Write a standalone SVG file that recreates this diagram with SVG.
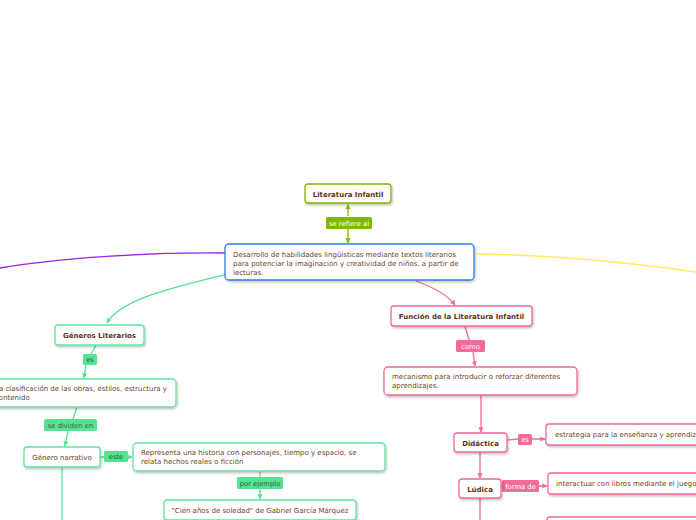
<svg xmlns="http://www.w3.org/2000/svg" width="696" height="520" viewBox="0 0 696 520">
<defs>
<filter id="sh" x="-10%" y="-20%" width="120%" height="150%">
<feDropShadow dx="1" dy="1.5" stdDeviation="0.8" flood-color="#000" flood-opacity="0.25"/>
</filter>
<marker id="ag" viewBox="0 0 10 10" refX="9" refY="5" markerWidth="4" markerHeight="4" orient="auto"><path d="M0,0 L10,5 L0,10 z" fill="#55e291"/></marker>
<marker id="ap" viewBox="0 0 10 10" refX="9" refY="5" markerWidth="4" markerHeight="4" orient="auto"><path d="M0,0 L10,5 L0,10 z" fill="#f06a9a"/></marker>
<marker id="ao" viewBox="0 0 10 10" refX="9" refY="5" markerWidth="4" markerHeight="4" orient="auto"><path d="M0,0 L10,5 L0,10 z" fill="#7fb800"/></marker>
</defs>
<style>
text{font-family:"DejaVu Sans",Verdana,sans-serif;font-size:7px;fill:#6b4422}
.b{font-weight:bold;fill:#5a3512;font-size:7px}
.c{text-anchor:middle}
.lt{fill:#ffffff;font-size:6.8px;text-anchor:middle}
.ltd{fill:#3a5a3a;font-size:6.8px;text-anchor:middle}
.n{fill:#fff;stroke-width:1.3;filter:url(#sh)}
.ng{stroke:#62e39e}
.np{stroke:#f06a9a}
.no{stroke:#7fb800}
.nb{stroke:#2d7ee8}
.lg{fill:#55e291}
.lp{fill:#f46b9b}
.lo{fill:#7fb800}
.cg{fill:none;stroke:#55e291;stroke-width:1.3}
.cp{fill:none;stroke:#f06a9a;stroke-width:1.3}
.co{fill:none;stroke:#7fb800;stroke-width:1.3}
</style>
<rect width="696" height="520" fill="#fff"/>
<g id="connectors">
<path d="M225,253 C150,252 60,258 0,268" fill="none" stroke="#a020f0" stroke-width="1.3"/>
<path d="M476,254 C560,255 640,264 696,272" fill="none" stroke="#ffec5c" stroke-width="1.3"/>
<path class="co" d="M348,216 L348,204.5" marker-end="url(#ao)"/>
<path class="co" d="M348,229 L348,243" marker-end="url(#ao)"/>
<path class="cg" d="M228,274 C170,288 120,300 107,323" marker-end="url(#ag)"/>
<path class="cp" d="M416,281 C435,288 448,295 455,305" marker-end="url(#ap)"/>
<path class="cg" d="M96,345 L91,354 M86,364 L84,378" marker-end="url(#ag)"/>
<path class="cg" d="M77,407 L73,419 M68,431 L65,446" marker-end="url(#ag)"/>
<path class="cg" d="M100,457 L104,457 M128,457 L132,457" marker-end="url(#ag)"/>
<path class="cg" d="M260,471 L260,477 M260,489 L260,499" marker-end="url(#ag)"/>
<path class="cg" d="M62,467 L62,520"/>
<path class="cp" d="M465,326 L469,340 M473,352 L475,366" marker-end="url(#ap)"/>
<path class="cp" d="M481,395 L481,432" marker-end="url(#ap)"/>
<path class="cp" d="M507,440 L518,439 M532,439 L545,439" marker-end="url(#ap)"/>
<path class="cp" d="M480,452 L480,478" marker-end="url(#ap)"/>
<path class="cp" d="M501,487 L502,486 M539,486 L547,486" marker-end="url(#ap)"/>
<path class="cp" d="M480,498 L480,520"/>
</g>
<g id="lbl-serefiere"><rect class="lo" x="326" y="217" width="46" height="12" rx="1.5"/><text class="lt" x="349" y="225.5">se refiere al</text></g>
<g id="lbl-es1"><rect class="lg" x="83" y="354" width="14" height="11" rx="1.5"/><text class="ltd" x="90" y="362">es</text></g>
<g id="lbl-sedividen"><rect class="lg" x="44" y="419" width="53" height="12" rx="1.5"/><text class="ltd" x="70.5" y="427.5">se dividen en</text></g>
<g id="lbl-este"><rect class="lg" x="104" y="451" width="24" height="11" rx="1.5"/><text class="ltd" x="116" y="459">este</text></g>
<g id="lbl-porejemplo"><rect class="lg" x="237" y="477" width="46" height="12" rx="1.5"/><text class="ltd" x="260" y="485.5">por ejemplo</text></g>
<g id="lbl-como"><rect class="lp" x="456" y="340" width="29" height="12" rx="1.5"/><text class="lt" x="470.5" y="348.5">como</text></g>
<g id="lbl-es2"><rect class="lp" x="518" y="434" width="14" height="11" rx="1.5"/><text class="lt" x="525" y="442">es</text></g>
<g id="lbl-formade"><rect class="lp" x="502" y="480" width="37" height="12" rx="1.5"/><text class="lt" x="520.5" y="488.5">forma de</text></g>
<g id="n-litinf"><rect class="n no" x="305" y="184" width="86" height="19" rx="3"/><text class="b c" x="348" y="196.5">Literatura Infantil</text></g>
<g id="n-main"><rect class="n nb" x="225" y="244" width="249" height="36" rx="4"/>
<text x="233" y="257">Desarrollo de habilidades lingüísticas mediante textos literarios</text>
<text x="233" y="266">para potenciar la imaginación y creatividad de niños, a partir de</text>
<text x="233" y="275">lecturas.</text></g>
<g id="n-generos"><rect class="n ng" x="55" y="325" width="89" height="20" rx="3"/><text class="b c" x="99.5" y="338">Géneros Literarios</text></g>
<g id="n-clasif"><rect class="n ng" x="-10" y="379" width="186" height="28" rx="4"/>
<text x="-5" y="391">La clasificación de las obras, estilos, estructura y</text>
<text x="-5" y="400">contenido</text></g>
<g id="n-narrativo"><rect class="n ng" x="24" y="447" width="76" height="20" rx="3"/><text class="c" x="62" y="460">Género narrativo</text></g>
<g id="n-representa"><rect class="n ng" x="133" y="443" width="252" height="28" rx="4"/>
<text x="141" y="455">Representa una historia con personajes, tiempo y espacio, se</text>
<text x="141" y="464">relata hechos reales o ficción</text></g>
<g id="n-cien"><rect class="n ng" x="164" y="500" width="192" height="20" rx="3"/><text class="c" x="260" y="513">"Cien años de soledad" de Gabriel García Márquez</text></g>
<g id="n-funcion"><rect class="n np" x="391" y="306" width="141" height="20" rx="3"/><text class="b c" x="461.5" y="319">Función de la Literatura Infantil</text></g>
<g id="n-mecanismo"><rect class="n np" x="384" y="367" width="193" height="28" rx="4"/>
<text x="392" y="379">mecanismo para introducir o reforzar diferentes</text>
<text x="392" y="388">aprendizajes.</text></g>
<g id="n-didactica"><rect class="n np" x="454" y="433" width="53" height="19" rx="3"/><text class="b c" x="480.5" y="445.5">Didáctica</text></g>
<g id="n-estrategia"><rect class="n np" x="546" y="424" width="160" height="21" rx="3"/><text x="555" y="437">estrategia para la enseñanza y aprendizaje</text></g>
<g id="n-ludica"><rect class="n np" x="459" y="479" width="42" height="19" rx="3"/><text class="b c" x="480" y="491.5">Lúdica</text></g>
<g id="n-interactuar"><rect class="n np" x="548" y="473" width="160" height="21" rx="3"/><text x="556" y="486">interactuar con libros mediante el juego</text></g>
<g id="n-next"><rect class="n np" x="547" y="517" width="160" height="21" rx="3"/></g>
</svg>
